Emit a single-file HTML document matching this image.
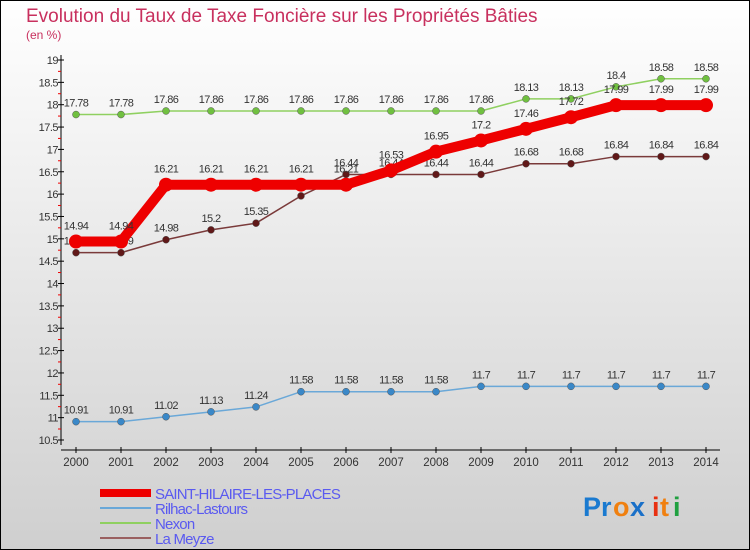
<!DOCTYPE html>
<html><head><meta charset="utf-8"><style>
body{margin:0;width:750px;height:550px;overflow:hidden;font-family:"Liberation Sans",sans-serif}
svg{display:block}
</style></head><body>
<svg id="chart" width="750" height="550">
<defs><linearGradient id="bg" x1="0" y1="0" x2="0" y2="1"><stop offset="0" stop-color="#ffffff"/><stop offset="1" stop-color="#cfcfcf"/></linearGradient></defs>
<rect x="0.5" y="0.5" width="749" height="549" fill="url(#bg)" stroke="#000"/>
<text x="26" y="22" font-size="19" fill="#c8305e">Evolution du Taux de Taxe Foncière sur les Propriétés Bâties</text>
<text x="26" y="39" font-size="12" fill="#c8305e">(en %)</text>
<g id="axes"></g><g id="series"></g><g id="legend"></g>
<g font-size="27" font-weight="bold">
<text x="583" y="516" fill="#1a7ad0">Pr</text><text x="613" y="516" fill="#f08010">o</text><text x="630" y="516" fill="#1a70c8">x</text><text x="652" y="516" fill="#e83010">i</text><text x="660" y="516" fill="#f08010">t</text><text x="673" y="516" fill="#20a040">i</text>
</g>
</svg>
<script>
const years=[2000,2001,2002,2003,2004,2005,2006,2007,2008,2009,2010,2011,2012,2013,2014];
const yTicks=[10.5,11,11.5,12,12.5,13,13.5,14,14.5,15,15.5,16,16.5,17,17.5,18,18.5,19];
const saint=[14.94,14.94,16.21,16.21,16.21,16.21,16.21,16.53,16.95,17.2,17.46,17.72,17.99,17.99,17.99];
const rilhac=[10.91,10.91,11.02,11.13,11.24,11.58,11.58,11.58,11.58,11.7,11.7,11.7,11.7,11.7,11.7];
const nexon=[17.78,17.78,17.86,17.86,17.86,17.86,17.86,17.86,17.86,17.86,18.13,18.13,18.4,18.58,18.58];
const meyze=[14.69,14.69,14.98,15.2,15.35,15.96,16.44,16.44,16.44,16.44,16.68,16.68,16.84,16.84,16.84];
const names=["SAINT-HILAIRE-LES-PLACES","Rilhac-Lastours","Nexon","La Meyze"];
const NS="http://www.w3.org/2000/svg";
const xs=i=>76+i*45;
const ys=v=>440-(v-10.5)*(380/8.5);
function mk(p,t,a){const e=document.createElementNS(NS,t);for(const k in a)e.setAttribute(k,a[k]);p.appendChild(e);return e;}
const ax=document.getElementById('axes');
let l=mk(ax,'line',{x1:61,y1:55,x2:61,y2:445,stroke:'#000'});


l=mk(ax,'line',{x1:61,y1:450,x2:720,y2:450,stroke:'#000'});


yTicks.forEach((v,i)=>{const y=ys(v);
 mk(ax,'line',{x1:58,y1:y,x2:64,y2:y,stroke:'#000'});
 if(i<yTicks.length-1)mk(ax,'line',{x1:58,y1:y-11,x2:61,y2:y-11,stroke:'#e00'});
 const t=mk(ax,'text',{x:58,y:y+4,'font-size':11,'text-anchor':'end',fill:'#333','letter-spacing':'-0.5'});t.textContent=v;
 
 });
years.forEach((yr,i)=>{const x=xs(i);
 mk(ax,'line',{x1:x,y1:447,x2:x,y2:453,stroke:'#000'});
 const t=mk(ax,'text',{x:x,y:466,'font-size':11.5,'text-anchor':'middle',fill:'#333'});t.textContent=yr;
 
 });
const sg=document.getElementById('series');
function series(vals,color,dot,w,r,name){const g=mk(sg,'g',{});
 
 
 mk(g,'polyline',{points:vals.map((v,i)=>xs(i)+','+ys(v)).join(' '),fill:'none',stroke:color,'stroke-width':w,'stroke-linejoin':'round'});
 vals.forEach((v,i)=>{mk(g,'circle',{cx:xs(i),cy:ys(v),r:r,fill:dot,stroke:w>3?'none':'#555','stroke-width':0.5});
  const t=mk(g,'text',{x:xs(i),y:ys(v)-(w>3?12:8),'font-size':11,'text-anchor':'middle',fill:'#333','letter-spacing':'-0.6'});t.textContent=v;});}
series(rilhac,'#6aa8d8','#3a88c8',1.5,3.5,'series-rilhac-lastours');
series(nexon,'#8fd060','#70c040',1.5,3.5,'series-nexon');
series(meyze,'#7a3a3a','#601818',1.5,3.5,'series-la-meyze');
series(saint,'#ee0000','#ee0000',10,7,'series-saint-hilaire');
const lg=document.getElementById('legend');
const lc=['#ee0000','#6aa8d8','#8fd060','#9a6060'],lw=[8,2,2,2];
names.forEach((n,i)=>{const y=493+i*15;const g=mk(lg,'g',{});
 
 
 mk(g,'line',{x1:100,y1:y,x2:151,y2:y,stroke:lc[i],'stroke-width':lw[i]});
 const t=mk(g,'text',{x:155,y:y+6,'font-size':15,fill:'#5a5af0','letter-spacing':'-0.8'});t.textContent=n;});
</script>
</body></html>
